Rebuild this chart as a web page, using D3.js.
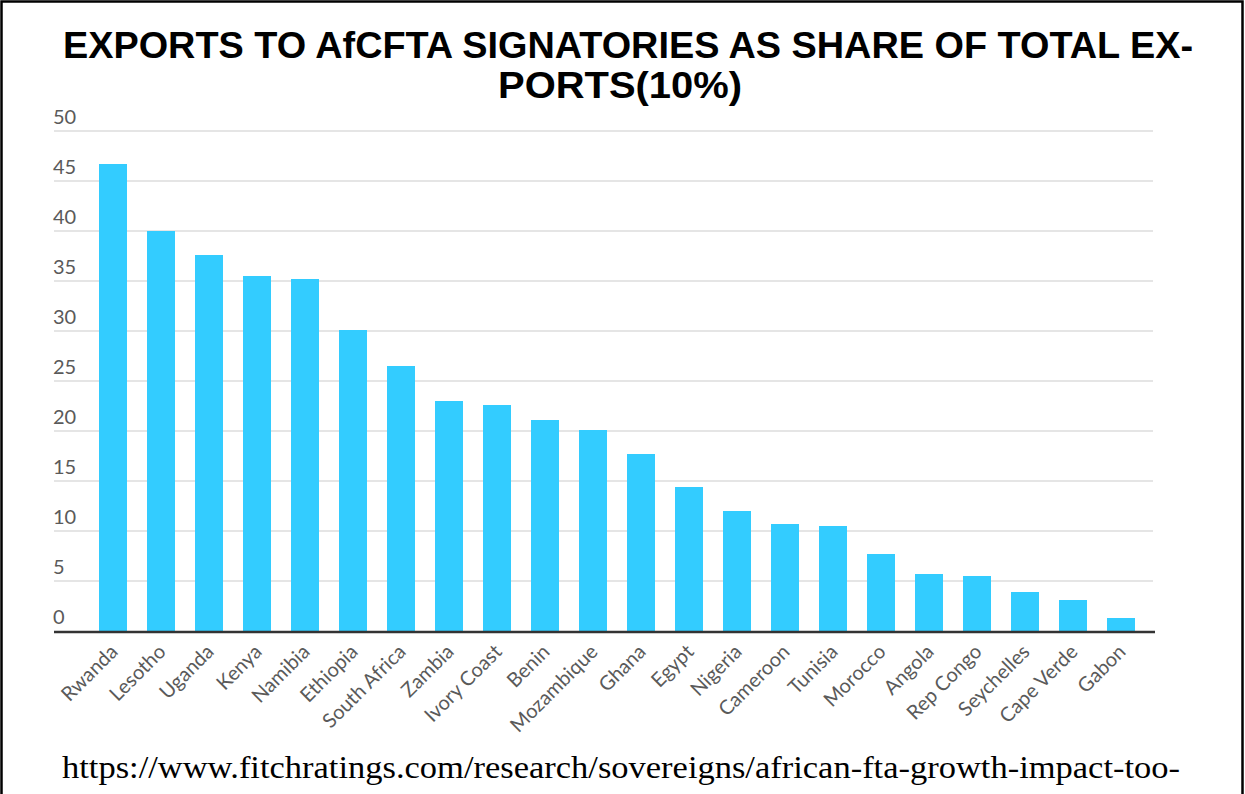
<!DOCTYPE html>
<html><head><meta charset="utf-8">
<script src="https://cdn.jsdelivr.net/npm/d3@7"></script>
<style>html,body{margin:0;padding:0;background:#fff;}svg{display:block;}</style>
</head><body>
<svg id="chart" width="1245" height="794"></svg>
<script>
const categories = ["Rwanda","Lesotho","Uganda","Kenya","Namibia","Ethiopia","South Africa","Zambia","Ivory Coast","Benin","Mozambique","Ghana","Egypt","Nigeria","Cameroon","Tunisia","Morocco","Angola","Rep Congo","Seychelles","Cape Verde","Gabon"];
const values = [46.7,40.0,37.6,35.5,35.2,30.1,26.5,23.0,22.6,21.1,20.1,17.7,14.4,12.0,10.7,10.5,7.7,5.7,5.5,3.9,3.1,1.3];
const yTicks = [0,5,10,15,20,25,30,35,40,45,50];
const titleLines = ["EXPORTS TO AfCFTA SIGNATORIES AS SHARE OF TOTAL EX-","PORTS(10%)"];
const sourceText = "https://www.fitchratings.com/research/sovereigns/african-fta-growth-impact-too-";

const svg = d3.select("#chart");
// frame
svg.append("rect").attr("x",1.5).attr("y",1.5).attr("width",1241).attr("height",820)
  .attr("fill","none").attr("stroke","#000").attr("stroke-width",2.5);

const x = d3.scaleBand().domain(categories).range([89,1145]).paddingInner(20/48).paddingOuter(10/48);
const y = d3.scaleLinear().domain([0,50]).range([631,131]);

// gridlines
svg.append("g").selectAll("line").data(yTicks.filter(d=>d>0)).join("line")
  .attr("x1",54).attr("x2",1153).attr("y1",d=>y(d)).attr("y2",d=>y(d))
  .attr("stroke","#dcdcdc").attr("stroke-width",1.5);

// y tick labels
svg.append("g").selectAll("text").data(yTicks).join("text")
  .attr("x",53).attr("y",d=>y(d)-7).text(d=>d)
  .attr("font-family","Lato, sans-serif").attr("font-size",20).attr("fill","#5a5a5a");

// bars
svg.append("g").selectAll("rect").data(categories).join("rect")
  .attr("x",d=>x(d)).attr("width",x.bandwidth())
  .attr("y",(d,i)=>y(values[i])).attr("height",(d,i)=>y(0)-y(values[i]))
  .attr("fill","#33ccff");

// x axis baseline
svg.append("line").attr("x1",54).attr("x2",1155).attr("y1",y(0)+1).attr("y2",y(0)+1)
  .attr("stroke","#333").attr("stroke-width",2.5);

// x labels
svg.append("g").selectAll("text").data(categories).join("text")
  .attr("transform",d=>`translate(${x(d)+x.bandwidth()/2+6},${y(0)+22}) rotate(-45)`)
  .attr("text-anchor","end").text(d=>d)
  .attr("font-family","Lato, sans-serif").attr("font-size",20).attr("fill","#5a5a5a");

// title
svg.append("text").attr("x",628).attr("y",58).attr("text-anchor","middle")
  .attr("font-family","'Liberation Sans', Arial, sans-serif").attr("font-weight","bold")
  .attr("font-size",37).attr("textLength",1130).attr("lengthAdjust","spacingAndGlyphs")
  .attr("fill","#000").text(titleLines[0]);
svg.append("text").attr("x",620).attr("y",98).attr("text-anchor","middle")
  .attr("font-family","'Liberation Sans', Arial, sans-serif").attr("font-weight","bold")
  .attr("font-size",37).attr("textLength",244).attr("lengthAdjust","spacingAndGlyphs")
  .attr("fill","#000").text(titleLines[1]);

// source
svg.append("text").attr("x",62).attr("y",778)
  .attr("font-family","'Liberation Serif', 'DejaVu Serif', serif")
  .attr("font-size",31).attr("textLength",1118).attr("lengthAdjust","spacingAndGlyphs")
  .attr("fill","#000").text(sourceText);
</script>
</body></html>
